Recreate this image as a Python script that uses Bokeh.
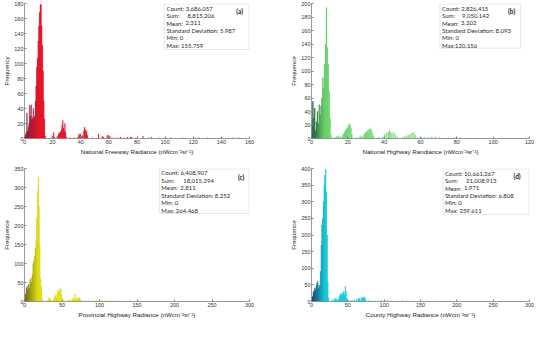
from bokeh.plotting import figure
from bokeh.layouts import gridplot
from bokeh.models import Range1d, BoxAnnotation, Label
from bokeh.embed import file_html
from bokeh.resources import INLINE

# ---------------- data ----------------
a_x = [0, 0.5, 1, 1.5, 2, 2.5, 3, 3.5, 4, 4.5, 5, 5.5, 6, 6.5, 7, 7.5, 8, 8.5, 9, 9.5,
       10, 10.5, 11, 11.5, 12, 12.5, 13, 13.5, 14, 14.5,
       19.5, 20.5, 21, 23, 24, 24.5, 25, 25.5, 26, 26.5,
       27, 27.5, 28, 28.5, 29, 29.5, 32, 35, 37.5, 38.5,
       39, 39.5, 40, 41, 42, 42.5, 43, 43.5, 44, 44.5,
       48, 52.5, 55, 56, 58.5, 59.5, 60.5, 62, 66, 68,
       71, 73, 75, 76, 79, 84, 88, 90, 95, 100,
       104, 112, 120, 124, 130, 140, 148, 152]
a_count = [2, 5, 8, 34, 10, 15, 20, 44, 30, 45, 25, 28, 40, 26, 30, 50, 70, 95, 107, 130,
           150, 168, 178, 179, 150, 124, 90, 50, 26, 3,
           3, 8, 2, 3, 6, 8, 7, 9, 12, 18,
           24, 14, 10, 20, 8, 2, 1, 1, 2, 6,
           4, 6, 3, 4, 10, 15, 12, 6, 10, 4,
           1, 6, 3, 2, 4, 4, 3, 1, 1, 2,
           1, 2, 2, 2, 1, 3, 1, 2, 1, 2,
           1, 1, 2, 1, 1, 1, 1, 1]

b_x = [0, 0.5, 1, 1.5, 2, 2.5, 3, 3.5, 4, 4.5, 5, 5.5, 6, 6.5, 7, 7.5, 8, 8.5, 9, 9.5, 10, 10.5,
       12.5, 13.5, 14.5, 15.5, 16.5, 17, 17.5, 18, 18.5, 19,
       19.5, 20, 20.5, 21, 21.5, 22, 25, 26.5, 27.5, 28.5,
       29, 29.5, 30, 30.5, 31, 31.5, 32, 32.5, 33, 33.5,
       34, 37, 39, 40, 41, 42, 42.5, 43, 44, 45,
       46, 47, 50, 51, 52, 53, 54, 55, 56, 57,
       58, 60, 62, 64, 66, 68, 70, 72, 75, 78,
       80, 82, 85, 90, 95, 100, 105, 110, 115, 119]
b_count = [20, 55, 30, 45, 12, 25, 40, 22, 50, 35, 48, 60, 90, 75, 110, 140, 194, 135, 110, 70, 30, 5,
           2, 3, 4, 3, 2, 5, 8, 10, 12, 14,
           16, 18, 22, 20, 16, 6, 2, 4, 3, 5,
           7, 9, 10, 11, 12, 14, 13, 15, 10, 6,
           3, 2, 3, 6, 8, 9, 12, 10, 8, 9,
           5, 2, 2, 3, 4, 5, 6, 8, 9, 5,
           2, 2, 2, 2, 3, 3, 2, 1, 1, 2,
           2, 1, 1, 1, 1, 1, 1, 1, 1, 1]

c_x = [0, 1, 2, 3, 4, 5, 6, 7, 8, 9, 10, 11, 12, 13, 14, 15, 16, 17, 18, 19, 20, 21, 22, 23,
       28, 31, 32, 33, 34, 36, 38, 39, 40, 41,
       42, 43, 44, 45, 46, 47, 48, 49, 50, 52,
       55, 58, 60, 62, 64, 65, 66, 67, 68, 69,
       70, 71, 72, 73, 74, 76, 80, 85, 90, 95,
       100, 103, 106, 110, 115, 120, 125, 130, 140, 150,
       155, 160, 170, 180, 190, 200, 210, 220, 230, 240,
       250, 260]
c_count = [5, 20, 35, 40, 30, 45, 35, 55, 62, 50, 70, 100, 105, 120, 140, 160, 220, 290, 328, 250, 150, 60, 40, 8,
           2, 5, 8, 10, 6, 3, 6, 10, 14, 18,
           12, 20, 30, 25, 35, 28, 32, 18, 8, 3,
           2, 4, 6, 3, 8, 10, 6, 20, 8, 6,
           10, 8, 10, 9, 6, 3, 2, 2, 3, 4,
           5, 4, 3, 2, 2, 3, 2, 2, 2, 3,
           2, 1, 1, 1, 1, 1, 2, 1, 1, 1,
           1, 1]

d_x = [0, 1, 2, 3, 4, 5, 6, 7, 8, 9, 10, 11, 12, 13, 14, 15, 16, 17, 18, 19, 20, 21, 22, 23,
       27, 29, 31, 33, 34, 36, 37, 38, 39, 40,
       41, 42, 43, 44, 45, 46, 47, 48, 50, 53,
       56, 59, 62, 64, 65, 66, 68, 69, 70, 71,
       72, 73, 74, 78, 82, 87, 92, 96, 100, 104,
       110, 118, 125, 130, 140, 150, 160, 170, 180, 195,
       210, 230, 245, 258]
d_count = [5, 15, 30, 25, 40, 35, 45, 55, 60, 40, 50, 45, 90, 170, 230, 250, 300, 350, 380, 398, 330, 200, 60, 10,
           3, 5, 8, 10, 6, 5, 8, 15, 20, 25,
           18, 22, 30, 28, 20, 45, 30, 10, 4, 3,
           3, 5, 6, 8, 10, 5, 12, 8, 10, 12,
           14, 10, 5, 3, 2, 2, 2, 3, 4, 3,
           2, 2, 3, 2, 2, 2, 1, 2, 1, 1,
           1, 1, 1, 1]

a_stats = ["Count: 3,686,057", ("Sum:", "8,815,206"), ("Mean:", "2.311"),
           "Standard Deviation: 5.987", "Min: 0", "Max: 155.759"]
b_stats = ["Count: 2,826,415", ("Sum:", "9,050,142"), ("Mean:", "3.202"),
           "Standard Deviation: 8.093", "Min: 0", "Max:120.156"]
c_stats = ["Count: 6,408,907", ("Sum:", "18,015,294"), ("Mean:", "2.811"),
           "Standard Deviation: 8.252", "Min: 0", "Max: 264.468"]
d_stats = ["Count: 10,661,267", ("Sum:", "21,008,913"), ("Mean:", "1.971"),
           "Standard Deviation: 6.808", "Min: 0", "Max: 259.611"]

a_xticks = [0, 20, 40, 60, 80, 100, 120, 140, 160]
a_yticks = [0, 20, 40, 60, 80, 100, 120, 140, 160, 180]
b_xticks = [0, 20, 40, 60, 80, 100, 120]
b_yticks = [0, 20, 40, 60, 80, 100, 120, 140, 160, 180, 200]
c_xticks = [0, 50, 100, 150, 200, 250, 300]
c_yticks = [0, 50, 100, 150, 200, 250, 300, 350]
d_xticks = [0, 50, 100, 150, 200, 250, 300]
d_yticks = [0, 50, 100, 150, 200, 250, 300, 350, 400]

UNIT = " (nWcm\u207b\u00b2sr\u207b\u00b9)"
labels_x = ["National Freeway Radiance" + UNIT, "National Highway Randiance" + UNIT,
            "Provincial Highway Radiance" + UNIT, "County Highway Radiance" + UNIT]
labels_y = ["Frequency", "Frequence", "Frequence", "Frequence"]
tags = ["(a)", "(b)", "(c)", "(d)"]

# ---------------- styling ----------------
AX_FONT = "Liberation Sans"
BOX_FONT = "Lato"
BOX_SIZE = "6px"


def grad(x, stops):
    if x <= stops[0][0]:
        c = stops[0][1]
    elif x >= stops[-1][0]:
        c = stops[-1][1]
    else:
        for (x0, c0), (x1, c1) in zip(stops[:-1], stops[1:]):
            if x0 <= x <= x1:
                t = (x - x0) / (x1 - x0)
                c = tuple(int(round(a + (b - a) * t)) for a, b in zip(c0, c1))
                break
    return "#%02x%02x%02x" % c


def make_panel(xs, counts, width_bin, xmax, ymax, xticks, yticks, stops, xlabel, ylabel,
               stats, tag, geom, w, h, borders):
    bl, br, bt, bb = borders
    p = figure(width=w, height=h, output_backend="svg", toolbar_location=None,
               x_range=Range1d(0, xmax), y_range=Range1d(0, ymax),
               min_border_left=bl, min_border_right=br, min_border_top=bt, min_border_bottom=bb)
    p.outline_line_color = None
    p.grid.visible = False
    p.background_fill_color = "white"
    p.border_fill_color = "white"
    cols = [grad(x + width_bin / 2, stops) for x in xs]
    p.quad(left=xs, right=[x + width_bin for x in xs], bottom=0, top=counts,
           fill_color=cols, line_color=cols, line_width=0.3)
    for ax in (p.xaxis[0], p.yaxis[0]):
        ax.axis_line_color = "#808080"
        ax.axis_line_width = 0.8
        ax.major_tick_line_color = "#808080"
        ax.major_tick_in = 2
        ax.major_tick_out = 0
        ax.minor_tick_line_color = None
        ax.major_label_text_font = AX_FONT
        ax.major_label_text_font_size = "5.5px"
        ax.major_label_text_color = "#333333"
        ax.major_label_standoff = 1
        ax.axis_label_text_font = AX_FONT
        ax.axis_label_text_font_size = "6.2px"
        ax.axis_label_text_font_style = "normal"
        ax.axis_label_text_color = "#222222"
        ax.axis_label_standoff = 1
    p.xaxis.ticker = xticks
    p.yaxis.ticker = yticks
    p.xaxis.axis_label = xlabel
    p.yaxis.axis_label = ylabel

    bx0, bx1, by0, by1, tx, off_sum, off_mean, lines, tagx, tagy = geom
    fx = lambda f: f * xmax
    fy = lambda f: ymax * (1 - f)
    p.add_layout(BoxAnnotation(left=fx(bx0), right=fx(bx1), top=fy(by0), bottom=fy(by1),
                               fill_color="white", fill_alpha=1.0,
                               line_color="#9a9a9a", line_width=0.8))
    for i, item in enumerate(stats):
        yy = fy(lines[i])
        if isinstance(item, tuple):
            key, val = item
            p.add_layout(Label(x=fx(tx), y=yy, text=key, text_font=BOX_FONT,
                               text_font_size=BOX_SIZE, text_baseline="middle", text_color="#2a2a2a"))
            off = off_sum if i == 1 else off_mean
            p.add_layout(Label(x=fx(tx), y=yy, x_offset=off, text=val, text_font=BOX_FONT,
                               text_font_size=BOX_SIZE, text_baseline="middle", text_color="#2a2a2a"))
        else:
            p.add_layout(Label(x=fx(tx), y=yy, text=item, text_font=BOX_FONT,
                               text_font_size=BOX_SIZE, text_baseline="middle", text_color="#2a2a2a"))
    p.add_layout(Label(x=fx(tagx), y=fy(tagy), text=tag, text_font=BOX_FONT,
                       text_font_size="6.5px", text_font_style="bold", text_align="center",
                       text_baseline="middle", text_color="#222222"))
    return p


LINES_TOP = [0.035, 0.09, 0.145, 0.2, 0.255, 0.31]

pa = make_panel(a_x, a_count, 0.5, 160, 180, a_xticks, a_yticks,
                [(0, (110, 15, 45)), (11, (230, 0, 22)), (160, (238, 25, 40))],
                labels_x[0], labels_y[0], a_stats, tags[0],
                (0.621, 0.998, 0.004, 0.34, 0.631, 21, 19, LINES_TOP, 0.956, 0.062),
                275, 160, (20, 26, 3, 22))
pb = make_panel(b_x, b_count, 0.5, 120, 200, b_xticks, b_yticks,
                [(0, (15, 75, 40)), (8, (100, 212, 100)), (120, (155, 238, 155))],
                labels_x[1], labels_y[1], b_stats, tags[1],
                (0.589, 0.959, 0.004, 0.331, 0.599, 20, 19, LINES_TOP, 0.918, 0.062),
                259, 160, (36, 5, 3, 22))
pc = make_panel(c_x, c_count, 1, 300, 350, c_xticks, c_yticks,
                [(0, (85, 85, 0)), (18, (220, 220, 0)), (300, (250, 250, 50))],
                labels_x[2], labels_y[2], c_stats, tags[2],
                (0.599, 0.998, 0.004, 0.338, 0.608, 22, 19,
                 [0.032, 0.091, 0.146, 0.202, 0.257, 0.313], 0.963, 0.067),
                275, 163, (20, 26, 8, 22))
pd = make_panel(d_x, d_count, 1, 300, 400, d_xticks, d_yticks,
                [(0, (10, 40, 95)), (19, (0, 200, 215)), (300, (0, 228, 238))],
                labels_x[3], labels_y[3], d_stats, tags[3],
                (0.604, 0.998, 0.004, 0.345, 0.612, 21, 19,
                 [0.035, 0.091, 0.148, 0.205, 0.259, 0.316], 0.943, 0.057),
                259, 163, (36, 5, 8, 22))

grid = gridplot([[pa, pb], [pc, pd]], toolbar_location=None)
open("out.html", "w").write(file_html(grid, INLINE))
